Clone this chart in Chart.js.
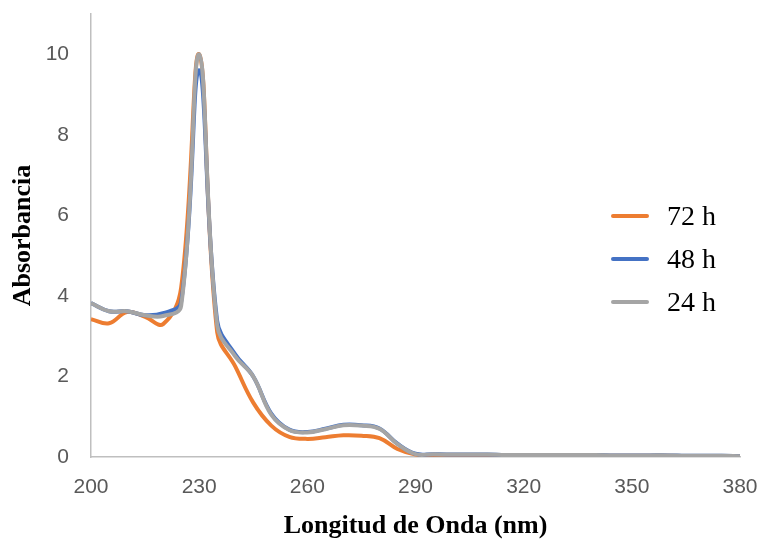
<!DOCTYPE html>
<html>
<head>
<meta charset="utf-8">
<script src="https://cdn.jsdelivr.net/npm/chart.js@4.4.1/dist/chart.umd.min.js"></script>
<style>
  html, body { margin: 0; padding: 0; background: #fff; }
  #wrap { width: 758px; height: 539px; position: relative; }
</style>
</head>
<body>
<div id="wrap"><canvas id="chart"></canvas></div>
<script>
// wavelength (nm), every 5 nm
const wavelengths = [200,205,210,215,220,225,230,235,240,245,250,255,260,265,270,275,280,285,290,
  295,300,305,310,315,320,325,330,335,340,345,350,355,360,365,370,375,380];

const abs72 = [3.42,3.32,3.60,3.48,3.30,4.20,10.0,3.10,2.25,1.35,0.78,0.50,0.45,0.49,0.54,0.53,0.47,0.20,0.06,
  0.05,0.05,0.04,0.04,0.04,0.04,0.04,0.03,0.03,0.03,0.03,0.03,0.03,0.03,0.02,0.02,0.02,0.02];
const abs48 = [3.82,3.62,3.62,3.52,3.57,3.85,9.60,3.38,2.55,2.00,1.08,0.68,0.62,0.70,0.80,0.79,0.71,0.33,0.08,
  0.07,0.06,0.06,0.06,0.05,0.05,0.05,0.05,0.05,0.05,0.04,0.04,0.04,0.04,0.03,0.03,0.03,0.02];
const abs24 = [3.82,3.62,3.62,3.52,3.50,3.75,10.0,3.27,2.50,2.00,1.05,0.67,0.61,0.69,0.79,0.78,0.70,0.32,0.07,
  0.07,0.06,0.06,0.06,0.05,0.05,0.05,0.05,0.05,0.05,0.04,0.04,0.04,0.04,0.03,0.03,0.03,0.02];

const seriesLabels = ['72 h', '48 h', '24 h'];
const seriesColors = ['#ED7D31', '#4472C4', '#A5A5A5'];

const xTicks = [200, 230, 260, 290, 320, 350, 380];
const yTicks = [0, 2, 4, 6, 8, 10];

const pts = (vals) => wavelengths.map((w, i) => ({ x: w, y: vals[i] }));

// legend drawn inside the plot area, like the original
const insideLegend = {
  id: 'insideLegend',
  afterDraw(chart) {
    const ctx = chart.ctx;
    const rows = [216, 259, 302];
    ctx.save();
    chart.data.datasets.forEach((ds, i) => {
      const y = rows[i];
      ctx.strokeStyle = ds.borderColor;
      ctx.lineWidth = 4;
      ctx.lineCap = 'round';
      ctx.beginPath();
      ctx.moveTo(613, y);
      ctx.lineTo(647, y);
      ctx.stroke();
      ctx.fillStyle = '#000';
      ctx.font = '28px "Liberation Serif", "Times New Roman", serif';
      ctx.textBaseline = 'middle';
      ctx.textAlign = 'left';
      ctx.fillText(ds.label, 667, y + 2);
    });
    ctx.restore();
  }
};

new Chart(document.getElementById('chart'), {
  type: 'line',
  data: {
    datasets: [
      { label: seriesLabels[0], data: pts(abs72), borderColor: seriesColors[0], order: 3 },
      { label: seriesLabels[1], data: pts(abs48), borderColor: seriesColors[1], order: 2 },
      { label: seriesLabels[2], data: pts(abs24), borderColor: seriesColors[2], order: 1 }
    ]
  },
  options: {
    responsive: true,
    maintainAspectRatio: false,
    animation: false,
    layout: { padding: { top: 14, right: 18, left: 0, bottom: 0 } },
    elements: {
      point: { radius: 0 },
      line: { borderWidth: 4, tension: 0.4, fill: false }
    },
    plugins: {
      legend: { display: false },
      tooltip: { enabled: false }
    },
    scales: {
      x: {
        type: 'linear',
        min: 200,
        max: 380,
        afterBuildTicks: (s) => { s.ticks = xTicks.map(v => ({ value: v })); },
        afterFit: (s) => { s.height = 82; s.paddingLeft = 0; s.paddingRight = 0; },
        grid: { display: false, drawTicks: false },
        border: { color: '#BFBFBF', width: 1.5 },
        ticks: {
          padding: 18,
          color: '#595959',
          font: { family: '"Liberation Sans", Arial, sans-serif', size: 21 }
        },
        title: {
          display: true,
          text: 'Longitud de Onda (nm)',
          color: '#000',
          padding: { top: 0, bottom: 0 },
          font: { family: '"Liberation Serif", "Times New Roman", serif', size: 26, weight: 'bold', lineHeight: 1.0 }
        }
      },
      y: {
        min: 0,
        max: 11,
        afterBuildTicks: (s) => { s.ticks = yTicks.map(v => ({ value: v })); },
        afterFit: (s) => { s.width = 91; s.paddingTop = 0; s.paddingBottom = 0; },
        grid: { display: false, drawTicks: false },
        border: { color: '#BFBFBF', width: 1.5 },
        ticks: {
          padding: 22,
          color: '#595959',
          font: { family: '"Liberation Sans", Arial, sans-serif', size: 21 }
        },
        title: {
          display: true,
          text: 'Absorbancia',
          color: '#000',
          padding: { top: 8, bottom: 0 },
          font: { family: '"Liberation Serif", "Times New Roman", serif', size: 26, weight: 'bold' }
        }
      }
    }
  },
  plugins: [insideLegend]
});
</script>
</body>
</html>
